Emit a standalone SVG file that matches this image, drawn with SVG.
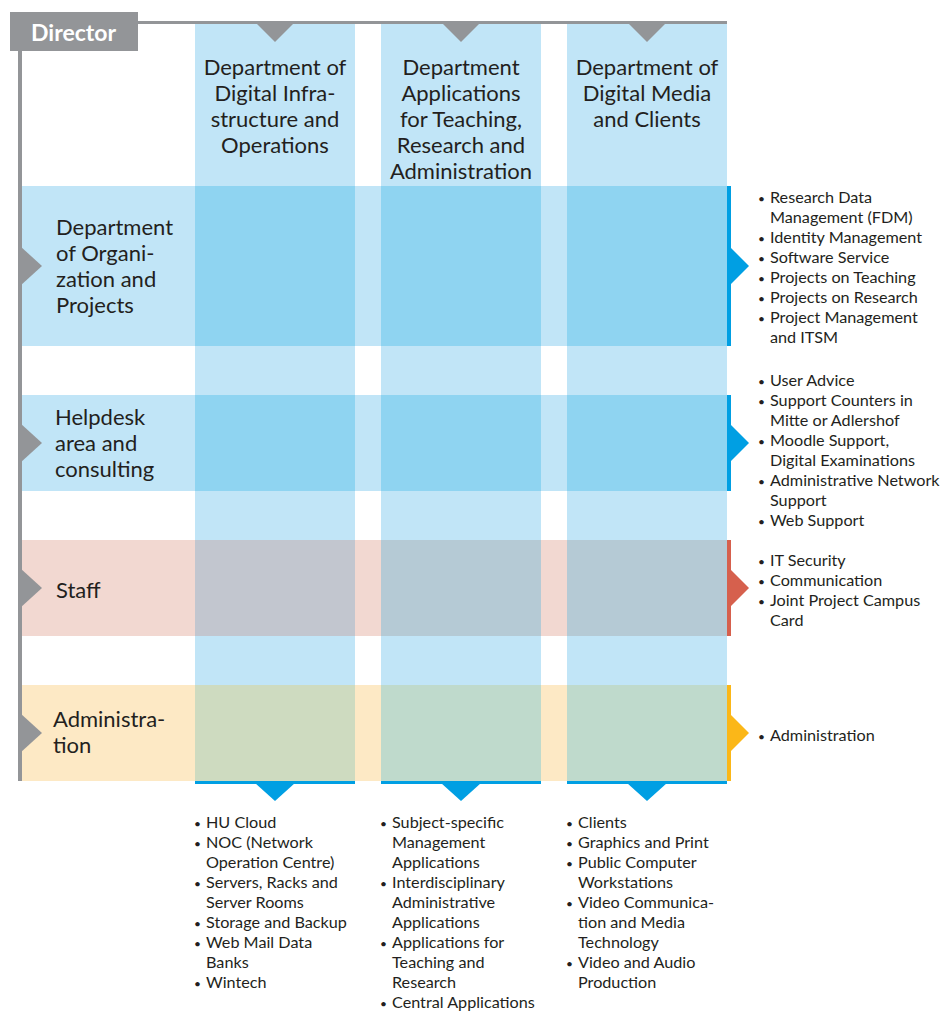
<svg xmlns="http://www.w3.org/2000/svg" width="942" height="1012" viewBox="0 0 942 1012">
<style>
text{font-family:Lato,"Open Sans","Liberation Sans",sans-serif;fill:#231f20}
.h{font-size:22px;text-anchor:middle}
.r{font-size:22px}
.l{font-size:16.2px}
.b{font-size:12px}
.lb{fill:#c1e5f7}
.x1{fill:#8fd4f1}
.gray{fill:#939598}
.blue{fill:#009fe3}
.red{fill:#d6604d}
.yel{fill:#fbb718}
</style>
<rect width="942" height="1012" fill="#ffffff"/>
<g id="columns">
<g id="col-infra"><rect class="lb" x="195" y="24" width="160" height="757"/>
<text class="h" x="275" y="75">Department of</text><text class="h" x="275" y="101">Digital Infra-</text><text class="h" x="275" y="127">structure and</text><text class="h" x="275" y="153">Operations</text></g>
<g id="col-apps"><rect class="lb" x="381" y="24" width="160" height="757"/>
<text class="h" x="461" y="75">Department</text><text class="h" x="461" y="101">Applications</text><text class="h" x="461" y="127">for Teaching,</text><text class="h" x="461" y="153">Research and</text><text class="h" x="461" y="179">Administration</text></g>
<g id="col-media"><rect class="lb" x="567" y="24" width="160" height="757"/>
<text class="h" x="647" y="75">Department of</text><text class="h" x="647" y="101">Digital Media</text><text class="h" x="647" y="127">and Clients</text></g>
</g>
<g id="rows">
<g id="row-org"><rect class="lb" x="22" y="186" width="705" height="160"/>
<rect class="x1" x="195" y="186" width="160" height="160"/><rect class="x1" x="381" y="186" width="160" height="160"/><rect class="x1" x="567" y="186" width="160" height="160"/>
<rect class="blue" x="727" y="186" width="4" height="160"/>
<text class="r" x="56" y="235">Department</text><text class="r" x="56" y="261">of Organi-</text><text class="r" x="56" y="287">zation and</text><text class="r" x="56" y="313">Projects</text></g>
<g id="row-help"><rect class="lb" x="22" y="395" width="705" height="96"/>
<rect class="x1" x="195" y="395" width="160" height="96"/><rect class="x1" x="381" y="395" width="160" height="96"/><rect class="x1" x="567" y="395" width="160" height="96"/>
<rect class="blue" x="727" y="395" width="4" height="96"/>
<text class="r" x="55" y="425">Helpdesk</text><text class="r" x="55" y="451">area and</text><text class="r" x="55" y="477">consulting</text></g>
<g id="row-staff"><rect fill="#f2d8d1" x="22" y="540" width="705" height="96"/>
<rect fill="#c2c6cf" x="195" y="540" width="160" height="96"/><rect fill="#b5cad5" x="381" y="540" width="160" height="96"/><rect fill="#b5cad5" x="567" y="540" width="160" height="96"/>
<rect class="red" x="727" y="540" width="4" height="96"/>
<text class="r" x="56" y="598">Staff</text></g>
<g id="row-admin"><rect fill="#fde9c5" x="22" y="685" width="705" height="96"/>
<rect fill="#cedbc0" x="195" y="685" width="160" height="96"/><rect fill="#bfdacc" x="381" y="685" width="160" height="96"/><rect fill="#bfdacc" x="567" y="685" width="160" height="96"/>
<rect class="yel" x="727" y="685" width="4" height="96"/>
<text class="r" x="53" y="727">Administra-</text><text class="r" x="53" y="753">tion</text></g>
</g>
<g id="director"><rect class="gray" x="10" y="12" width="128" height="39"/>
<text x="31" y="41" style="font-size:23px;font-weight:bold;fill:#ffffff">Director</text></g>
<g id="connectors">
<rect class="gray" x="138" y="21" width="589" height="3"/>
<rect class="gray" x="18" y="51" width="4" height="730"/>
<polygon class="gray" points="257,24 293,24 275,42"/>
<polygon class="gray" points="443,24 479,24 461,42"/>
<polygon class="gray" points="629,24 665,24 647,42"/>
<polygon class="gray" points="20,246 42,266 20,286"/>
<polygon class="gray" points="20,423 42,443 20,463"/>
<polygon class="gray" points="20,568 42,588 20,608"/>
<polygon class="gray" points="20,713 42,733 20,753"/>
<polygon class="blue" points="730,247 749,266 730,285"/>
<polygon class="blue" points="730,424 749,443 730,462"/>
<polygon class="red" points="730,569 749,588 730,607"/>
<polygon class="yel" points="730,714 749,733 730,752"/>
<rect class="blue" x="195" y="781" width="160" height="3"/>
<rect class="blue" x="381" y="781" width="160" height="3"/>
<rect class="blue" x="567" y="781" width="160" height="3"/>
<polygon class="blue" points="255,783 295,783 275,801"/>
<polygon class="blue" points="441,783 481,783 461,801"/>
<polygon class="blue" points="627,783 667,783 647,801"/>
</g>
<g id="list-org">
<text class="l" x="758" y="203"><tspan class="b">•</tspan><tspan x="770">Research Data</tspan></text>
<text class="l" x="770" y="223">Management (FDM)</text>
<text class="l" x="758" y="243"><tspan class="b">•</tspan><tspan x="770">Identity Management</tspan></text>
<text class="l" x="758" y="263"><tspan class="b">•</tspan><tspan x="770">Software Service</tspan></text>
<text class="l" x="758" y="283"><tspan class="b">•</tspan><tspan x="770">Projects on Teaching</tspan></text>
<text class="l" x="758" y="303"><tspan class="b">•</tspan><tspan x="770">Projects on Research</tspan></text>
<text class="l" x="758" y="323"><tspan class="b">•</tspan><tspan x="770">Project Management</tspan></text>
<text class="l" x="770" y="343">and ITSM</text>
</g>
<g id="list-help">
<text class="l" x="758" y="386"><tspan class="b">•</tspan><tspan x="770">User Advice</tspan></text>
<text class="l" x="758" y="406"><tspan class="b">•</tspan><tspan x="770">Support Counters in</tspan></text>
<text class="l" x="770" y="426">Mitte or Adlershof</text>
<text class="l" x="758" y="446"><tspan class="b">•</tspan><tspan x="770">Moodle Support,</tspan></text>
<text class="l" x="770" y="466">Digital Examinations</text>
<text class="l" x="758" y="486"><tspan class="b">•</tspan><tspan x="770">Administrative Network</tspan></text>
<text class="l" x="770" y="506">Support</text>
<text class="l" x="758" y="526"><tspan class="b">•</tspan><tspan x="770">Web Support</tspan></text>
</g>
<g id="list-staff">
<text class="l" x="758" y="566"><tspan class="b">•</tspan><tspan x="770">IT Security</tspan></text>
<text class="l" x="758" y="586"><tspan class="b">•</tspan><tspan x="770">Communication</tspan></text>
<text class="l" x="758" y="606"><tspan class="b">•</tspan><tspan x="770">Joint Project Campus</tspan></text>
<text class="l" x="770" y="626">Card</text>
</g>
<g id="list-admin">
<text class="l" x="758" y="741"><tspan class="b">•</tspan><tspan x="770">Administration</tspan></text>
</g>
<g id="list-infra">
<text class="l" x="194" y="828"><tspan class="b">•</tspan><tspan x="206">HU Cloud</tspan></text>
<text class="l" x="194" y="848"><tspan class="b">•</tspan><tspan x="206">NOC (Network</tspan></text>
<text class="l" x="206" y="868">Operation Centre)</text>
<text class="l" x="194" y="888"><tspan class="b">•</tspan><tspan x="206">Servers, Racks and</tspan></text>
<text class="l" x="206" y="908">Server Rooms</text>
<text class="l" x="194" y="928"><tspan class="b">•</tspan><tspan x="206">Storage and Backup</tspan></text>
<text class="l" x="194" y="948"><tspan class="b">•</tspan><tspan x="206">Web Mail Data</tspan></text>
<text class="l" x="206" y="968">Banks</text>
<text class="l" x="194" y="988"><tspan class="b">•</tspan><tspan x="206">Wintech</tspan></text>
</g>
<g id="list-apps">
<text class="l" x="380" y="828"><tspan class="b">•</tspan><tspan x="392">Subject-specific</tspan></text>
<text class="l" x="392" y="848">Management</text>
<text class="l" x="392" y="868">Applications</text>
<text class="l" x="380" y="888"><tspan class="b">•</tspan><tspan x="392">Interdisciplinary</tspan></text>
<text class="l" x="392" y="908">Administrative</text>
<text class="l" x="392" y="928">Applications</text>
<text class="l" x="380" y="948"><tspan class="b">•</tspan><tspan x="392">Applications for</tspan></text>
<text class="l" x="392" y="968">Teaching and</text>
<text class="l" x="392" y="988">Research</text>
<text class="l" x="380" y="1008"><tspan class="b">•</tspan><tspan x="392">Central Applications</tspan></text>
</g>
<g id="list-media">
<text class="l" x="566" y="828"><tspan class="b">•</tspan><tspan x="578">Clients</tspan></text>
<text class="l" x="566" y="848"><tspan class="b">•</tspan><tspan x="578">Graphics and Print</tspan></text>
<text class="l" x="566" y="868"><tspan class="b">•</tspan><tspan x="578">Public Computer</tspan></text>
<text class="l" x="578" y="888">Workstations</text>
<text class="l" x="566" y="908"><tspan class="b">•</tspan><tspan x="578">Video Communica-</tspan></text>
<text class="l" x="578" y="928">tion and Media</text>
<text class="l" x="578" y="948">Technology</text>
<text class="l" x="566" y="968"><tspan class="b">•</tspan><tspan x="578">Video and Audio</tspan></text>
<text class="l" x="578" y="988">Production</text>
</g>
</svg>
